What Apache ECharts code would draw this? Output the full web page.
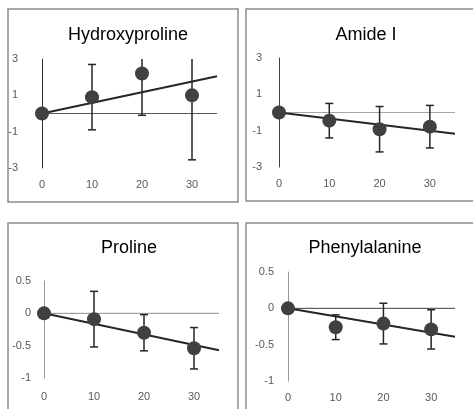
<!DOCTYPE html>
<html>
<head>
<meta charset="utf-8">
<script src="https://cdn.jsdelivr.net/npm/echarts@6/dist/echarts.min.js"></script>
<style>
html,body{margin:0;padding:0;background:#fff;}
#main{width:473px;height:409px;}
</style>
</head>
<body>
<div id="main"></div>
<script>
// data
var titles = ['Hydroxyproline', 'Amide I', 'Proline', 'Phenylalanine'];
var days = [0, 10, 20, 30];
var hypMean = [0, 0.9, 2.2, 1.0];
var hypErr = [3, 1.8, 2.3, 3.55];
var amideMean = [0, -0.45, -0.92, -0.78];
var amideErr = [0, 0.95, 1.25, 1.17];
var proMean = [0, -0.09, -0.3, -0.54];
var proErr = [0, 0.43, 0.28, 0.32];
var pheMean = [0, -0.26, -0.21, -0.29];
var pheErr = [0, 0.17, 0.28, 0.27];
var trendX = [0, 35];
var trendEnd = [2.05, -1.17, -0.57, -0.39];
var yMin = [-3, -3, -1, -1];
var yMax = [3, 3, 0.5, 0.5];
var yStep = [2, 2, 0.5, 0.5];

var means = [hypMean, amideMean, proMean, pheMean];
var errs = [hypErr, amideErr, proErr, pheErr];

// layout of the four panels
var grids = [
    {left: 42, top: 59, width: 175, height: 109},
    {left: 279, top: 58, width: 176, height: 109},
    {left: 44, top: 281, width: 175, height: 97},
    {left: 288, top: 272, width: 167, height: 109}
];
var boxes = [
    [8, 9, 230, 193],
    [246, 9, 240, 192],
    [8, 223, 230, 200],
    [246, 223, 240, 200]
];
var titlePos = [[123, 21], [361, 21], [124, 234], [360, 234]];
var yLabelMargin = [24, 17, 13, 14];
var xLabelMargin = [11, 11, 13, 11];
var zeroColor = ['#595959', '#a6a6a6', '#8c8c8c', '#404040'];
var yLineColor = ['#404040', '#404040', '#999999', '#999999'];

var option = {
    animation: false,
    backgroundColor: '#fff',
    title: [],
    grid: [],
    xAxis: [],
    yAxis: [],
    series: [],
    graphic: []
};

boxes.forEach(function(b){
    option.graphic.push({
        type: 'rect',
        shape: {x: b[0], y: b[1], width: b[2], height: b[3]},
        style: {fill: 'none', stroke: '#8c8c8c', lineWidth: 1.5},
        silent: true
    });
});

titles.forEach(function(t, i){
    option.title.push({
        text: t,
        left: titlePos[i][0],
        top: titlePos[i][1],
        textAlign: 'center',
        textStyle: {fontFamily: 'Liberation Sans, Arial, sans-serif', fontSize: 18, fontWeight: 'normal', color: '#000'}
    });

    option.grid.push(grids[i]);

    option.xAxis.push({
        type: 'value',
        gridIndex: i,
        min: 0,
        max: 35,
        interval: 10,
        axisLine: {show: false},
        axisTick: {show: false},
        splitLine: {show: false},
        axisLabel: {
            margin: xLabelMargin[i],
            color: '#595959',
            fontSize: 11,
            fontFamily: 'Liberation Sans, Arial, sans-serif',
            showMaxLabel: false
        }
    });

    option.yAxis.push({
        type: 'value',
        gridIndex: i,
        min: yMin[i],
        max: yMax[i],
        interval: yStep[i],
        axisLine: {show: true, onZero: false, lineStyle: {color: yLineColor[i], width: 1}},
        axisTick: {show: false},
        splitLine: {show: false},
        axisLabel: {
            margin: yLabelMargin[i],
            color: '#595959',
            fontSize: 11,
            fontFamily: 'Liberation Sans, Arial, sans-serif'
        }
    });

    // horizontal zero line
    option.series.push({
        type: 'line',
        xAxisIndex: i,
        yAxisIndex: i,
        data: [[0, 0], [35, 0]],
        symbol: 'none',
        lineStyle: {color: zeroColor[i], width: 1},
        silent: true,
        z: 1
    });

    // error bars
    var errData = days.map(function(d, k){
        return [d, means[i][k] - errs[i][k], means[i][k] + errs[i][k]];
    });
    option.series.push({
        type: 'custom',
        xAxisIndex: i,
        yAxisIndex: i,
        clip: true,
        z: 2,
        data: errData,
        renderItem: function(params, api){
            var x = api.value(0);
            var lo = api.coord([x, api.value(1)]);
            var hi = api.coord([x, api.value(2)]);
            var w = 4;
            var st = {stroke: '#262626', lineWidth: 1.5, fill: 'none'};
            var kids = [
                {type: 'line', shape: {x1: lo[0], y1: lo[1], x2: hi[0], y2: hi[1]}, style: st}
            ];
            if (x !== 0) {
                kids.push({type: 'line', shape: {x1: lo[0] - w, y1: lo[1], x2: lo[0] + w, y2: lo[1]}, style: st});
                kids.push({type: 'line', shape: {x1: hi[0] - w, y1: hi[1], x2: hi[0] + w, y2: hi[1]}, style: st});
            }
            return {type: 'group', children: kids};
        }
    });

    // trend line
    option.series.push({
        type: 'line',
        xAxisIndex: i,
        yAxisIndex: i,
        data: [[trendX[0], 0], [trendX[1], trendEnd[i]]],
        symbol: 'none',
        lineStyle: {color: '#262626', width: 2},
        z: 3
    });

    // points
    option.series.push({
        type: 'scatter',
        xAxisIndex: i,
        yAxisIndex: i,
        data: days.map(function(d, k){ return [d, means[i][k]]; }),
        symbolSize: 14,
        itemStyle: {color: '#404040', opacity: 1},
        z: 4
    });
});

var myChart = echarts.init(document.getElementById('main'));
myChart.setOption(option);
</script>
</body>
</html>
